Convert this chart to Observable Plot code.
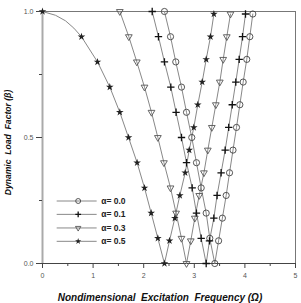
<!DOCTYPE html>
<html>
<head>
<meta charset="utf-8">
<script src="https://cdn.jsdelivr.net/npm/d3@7"></script>
<script src="https://cdn.jsdelivr.net/npm/@observablehq/plot@0.6"></script>
<style>
  html, body { margin: 0; padding: 0; background: #fff; }
  #chart svg { display: block; }
</style>
</head>
<body>
<div id="chart"></div>
<script>
// Damping ratio of each curve
const alphaLabels = ["0.0", "0.1", "0.3", "0.5"];

// Dynamic load factor levels at the markers (falling and rising branches)
const betaDown = [1.0, 0.9, 0.8, 0.7, 0.6, 0.5, 0.4, 0.3, 0.2, 0.1, 0.0];
const betaUp = [0.0, 0.09, 0.18, 0.27, 0.36, 0.45, 0.54, 0.63, 0.72, 0.81, 0.90, 0.99];

// Excitation frequency at each marker, falling branch
const omegaDown00 = [2.41, 2.53, 2.634, 2.747, 2.846, 2.95, 3.043, 3.136, 3.235, 3.306, 3.405];
const omegaDown01 = [2.168, 2.292, 2.41, 2.536, 2.64, 2.747, 2.846, 2.958, 3.043, 3.136, 3.235];
const omegaDown03 = [1.528, 1.706, 1.864, 2.016, 2.154, 2.28, 2.40, 2.53, 2.64, 2.747, 2.846];
const omegaDown05 = [0.0, 0.77, 1.087, 1.33, 1.528, 1.70, 1.87, 2.016, 2.148, 2.28, 2.41];

// Excitation frequency at each marker, rising branch
const omegaUp00 = [3.405, 3.48, 3.555, 3.63, 3.696, 3.765, 3.834, 3.90, 3.966, 4.037, 4.097, 4.156];
const omegaUp01 = [3.235, 3.30, 3.386, 3.45, 3.53, 3.61, 3.68, 3.75, 3.82, 3.887, 3.953, 4.012];
const omegaUp03 = [2.846, 2.93, 3.01, 3.097, 3.19, 3.267, 3.346, 3.425, 3.504, 3.571, 3.642, 3.715];
const omegaUp05 = [2.41, 2.51, 2.615, 2.714, 2.82, 2.90, 2.99, 3.069, 3.156, 3.235, 3.32, 3.387];

// Extra (unmarked) points on the rounded start of the α = 0.5 curve
const curveOmega05 = [0.257, 0.455, 0.62];
const curveBeta05 = [0.985, 0.963, 0.934];

// Axis ticks
const xMajor = [0, 1, 2, 3, 4, 5];
const xMinor = [0.5, 1.5, 2.5, 3.5, 4.5];
const yMajor = [0.0, 0.5, 1.0];
const yMinor = [0.25, 0.75];

const xTitle = "Nondimensional  Excitation  Frequency (Ω)";
const yTitle = "Dynamic  Load  Factor (β)";

// Marker look for each series
const markerStyle = [
  {symbol: "circle",   r: 3.1, fill: "none", stroke: "#444", strokeWidth: 0.9, rotate: 0},
  {symbol: "plus",     r: 2.5, fill: "none", stroke: "#111", strokeWidth: 1.3, rotate: 0},
  {symbol: "triangle", r: 2.5, fill: "none", stroke: "#555", strokeWidth: 0.9, rotate: 180},
  {symbol: "star",     r: 2.4, fill: "#222", stroke: "none", strokeWidth: 0, rotate: 0}
];

const downs = [omegaDown00, omegaDown01, omegaDown03, omegaDown05];
const ups = [omegaUp00, omegaUp01, omegaUp03, omegaUp05];

// Marker rows per series
const markerRows = alphaLabels.map((s, i) => [
  ...downs[i].map((x, j) => ({s, x, y: betaDown[j]})),
  ...ups[i].slice(1).map((x, j) => ({s, x, y: betaUp[j + 1]}))
]);

// Line rows: markers plus the rounded start of α = 0.5
const lineRows = markerRows.flatMap((rows, i) => {
  if (alphaLabels[i] !== "0.5") return rows;
  const extra = curveOmega05.map((x, j) => ({s: "0.5", x, y: curveBeta05[j]}));
  return [rows[0], ...extra, ...rows.slice(1)];
});

// Legend rows inside the plot (data units)
const legendY = [0.248, 0.195, 0.141, 0.088];
const legendRows = alphaLabels.map((s, i) => ({s, i, y: legendY[i]}));

const font = "'Liberation Sans', Arial, sans-serif";

const chart = Plot.plot({
  width: 301,
  height: 303,
  marginLeft: 42,
  marginRight: 6,
  marginTop: 11,
  marginBottom: 40,
  style: {fontFamily: font, background: "#fff", overflow: "visible"},
  x: {domain: [0, 5]},
  y: {domain: [0, 1]},
  marks: [
    Plot.frame({stroke: "#777", strokeWidth: 1}),
    Plot.ruleX([0], {stroke: "#aaa", strokeWidth: 2}),
    Plot.ruleY([0], {stroke: "#444", strokeWidth: 1}),

    Plot.axisX(xMajor, {tickSize: 5, tickPadding: 5, fontSize: 7, stroke: "#444", fill: "#555", tickFormat: d => String(d), label: null}),
    Plot.axisX(xMinor, {tickSize: 3, tickFormat: () => "", stroke: "#444", label: null}),
    Plot.axisY(yMajor, {tickSize: 6, tickPadding: 3, fontSize: 7, stroke: "#444", fill: "#555", tickFormat: d3.format(".1f"), label: null}),
    Plot.axisY(yMinor, {tickSize: 3, tickFormat: () => "", stroke: "#444", label: null}),

    Plot.line(lineRows, {x: "x", y: "y", z: "s", stroke: "#888", strokeWidth: 1}),

    ...markerRows.map((rows, i) => Plot.dot(rows, {
      x: "x", y: "y",
      symbol: markerStyle[i].symbol,
      r: markerStyle[i].r,
      fill: markerStyle[i].fill,
      stroke: markerStyle[i].stroke,
      strokeWidth: markerStyle[i].strokeWidth,
      rotate: markerStyle[i].rotate
    })),

    // Legend
    Plot.ruleY(legendRows, {y: "y", x1: () => 0.29, x2: () => 1.08, stroke: "#888", strokeWidth: 1}),
    ...legendRows.map((d, i) => Plot.dot([d], {
      x: () => 0.705, y: "y",
      symbol: markerStyle[i].symbol,
      r: markerStyle[i].r * 0.8,
      fill: markerStyle[i].fill,
      stroke: markerStyle[i].stroke,
      strokeWidth: markerStyle[i].strokeWidth,
      rotate: markerStyle[i].rotate
    })),
    Plot.text(legendRows, {x: () => 1.16, y: "y", text: d => `α= ${d.s}`, textAnchor: "start",
      fontSize: 8.5, fontWeight: "bold", fill: "#222"}),

    // Axis titles
    Plot.text([xTitle], {frameAnchor: "bottom", text: d => d, textAnchor: "middle", lineAnchor: "middle",
      dx: -9, dy: 34.5, fontSize: 10, fontWeight: "bold", fontStyle: "italic", fill: "#111"}),
    Plot.text([yTitle], {frameAnchor: "left", text: d => d, textAnchor: "middle", lineAnchor: "middle",
      rotate: -90, dx: -34.5, dy: 5, fontSize: 8.6, fontWeight: "bold", fontStyle: "italic", fill: "#111"})
  ]
});

document.getElementById("chart").appendChild(chart);
</script>
</body>
</html>
